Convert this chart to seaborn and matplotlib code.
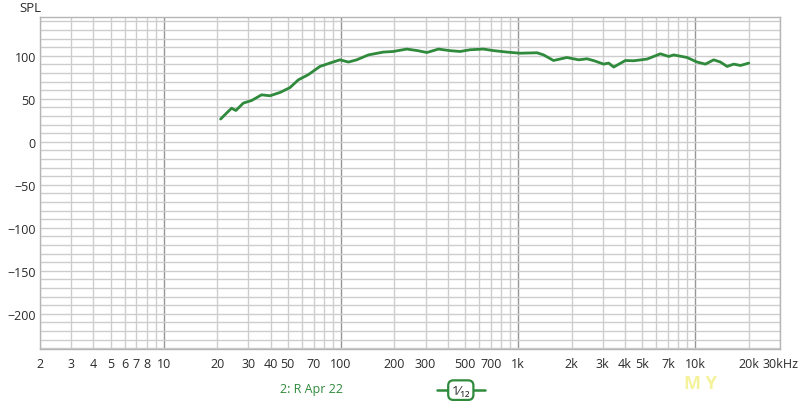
"""Frequency response (SPL vs frequency) recreated with seaborn."""

import matplotlib

matplotlib.use("Agg")
import matplotlib.pyplot as plt
import numpy as np
import pandas as pd
import seaborn as sns
from matplotlib.lines import Line2D

# ── Data ─────────────────────────────────────────────────────────────────────
freq_hz = [
    20.9, 22.5, 24.1, 25.5, 28.1, 31.3, 35.6, 39.7, 45.2, 51.5, 57.4, 65.3,
    76, 88.5, 98.6, 110, 122.6, 142.6, 173, 197, 235, 270, 305, 355, 410,
    470, 535, 637, 725, 863, 1026, 1276, 1390, 1581, 1883, 2191, 2443, 2700,
    3034, 3238, 3456, 4025, 4487, 5337, 6342, 7064, 7540, 8970, 10210,
    11380, 12680, 13830, 15090, 16450, 17940, 20000,
]
spl_db = [
    26.4, 33, 39, 36.4, 45, 48, 54.6, 53.5, 57.3, 63, 72, 78,
    87.6, 92.2, 95.3, 92.7, 95.3, 101, 104.3, 105, 107.8, 106, 103.8, 107.8, 106,
    105, 107, 107.8, 106, 104.3, 103, 103.5, 101, 94.5, 98, 95.3, 96.5, 94,
    90.3, 91.5, 86.9, 94.5, 94.2, 96.2, 102.3, 99.2, 101, 98, 92.7,
    90.3, 95.3, 92.7, 87.6, 90.3, 88.7, 91.5,
]

x_tick_values = [2, 3, 4, 5, 6, 7, 8, 10, 20, 30, 40, 50, 70, 100, 200, 300,
                 500, 700, 1000, 2000, 3000, 4000, 5000, 7000, 10000, 20000, 30000]
x_tick_labels = ["2", "3", "4", "5", "6", "7", "8", "10", "20", "30", "40", "50",
                 "70", "100", "200", "300", "500", "700", "1k", "2k", "3k", "4k",
                 "5k", "7k", "10k", "20k", "30kHz"]
y_tick_values = [-200, -150, -100, -50, 0, 50, 100]

series_label = "2: R Apr 22"
smoothing_label = "1\u2044\u2081\u2082"

# ── Style ────────────────────────────────────────────────────────────────────
sns.set_theme(style="white")
plt.rcParams["font.family"] = ["Open Sans", "DejaVu Sans"]

GREEN = "#2f8a3c"
GRID_MINOR = "#cdcdcd"
GRID_MAJOR = "#969696"
TEXT = "#2b2b2b"

df = pd.DataFrame({"freq": freq_hz, "spl": spl_db})

fig = plt.figure(figsize=(8.0, 4.02), dpi=100)
ax = fig.add_axes([0.05, 0.1294, 0.925, 0.8256])

# grid: 1..9 per decade, decades darker
for exp in range(0, 5):
    for m in range(1, 10):
        f = m * 10 ** exp
        if 2 <= f <= 30000:
            major = m == 1
            ax.axvline(f, color=GRID_MAJOR if major else GRID_MINOR,
                       lw=1.0, zorder=0)
for level in range(-240, 150, 10):
    ax.axhline(level, color=GRID_MINOR, lw=1.0, zorder=0)

sns.lineplot(data=df, x="freq", y="spl", ax=ax, color=GREEN, linewidth=2.0,
             zorder=3)

ax.set_xscale("log")
ax.set_xlim(2, 30000)
ax.set_ylim(-241, 145)
ax.minorticks_off()
ax.set_xticks(x_tick_values, x_tick_labels)
ax.set_yticks(y_tick_values)
ax.tick_params(length=0, labelsize=9, colors=TEXT)
ax.tick_params(axis="x", pad=6)
ax.tick_params(axis="y", pad=3)
ax.set_xlabel("")
ax.set_ylabel("")
for spine in ax.spines.values():
    spine.set_color("#b5b5b5")
    spine.set_linewidth(1.0)

fig.text(0.024, 0.978, "SPL", fontsize=9.5, color=TEXT, va="center", ha="left")

# legend row
fig.text(0.35, 0.03, series_label, fontsize=9, color=GREEN, va="center", ha="left")
fig.add_artist(Line2D([0.546, 0.606], [0.027, 0.027], color=GREEN, lw=1.8,
                      transform=fig.transFigure))
fig.text(0.576, 0.027, smoothing_label, fontsize=9.5, color=TEXT, va="center",
         ha="center",
         bbox=dict(boxstyle="round,pad=0.25,rounding_size=0.4", fc="white",
                   ec=GREEN, lw=1.6))

# faint watermark
fig.text(0.875, 0.045, "M Y", fontsize=13, color="#f5f29c", fontweight="bold",
         va="center", ha="center")

fig.savefig("out.png", dpi=100)
